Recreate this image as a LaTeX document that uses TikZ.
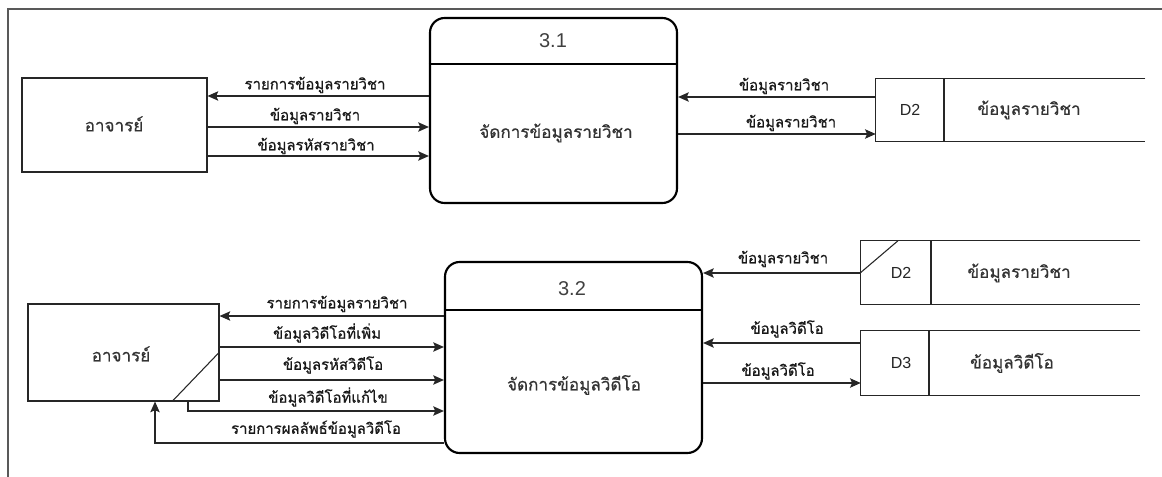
\documentclass[tikz,border=0pt]{standalone}
\usepackage{fontspec}
\setmainfont{Liberation Sans}
\newfontfamily\thaifont[Script=Thai,FakeBold=0.7]{Loma}
\usetikzlibrary{arrows.meta}
\begin{document}
\begin{tikzpicture}[x=0.75pt,y=-0.75pt,
  ent/.style={draw=black!85, line width=0.8pt, rectangle, inner sep=0pt},
  proc/.style={draw=black, line width=1.6pt, rounded corners=11pt, inner sep=0pt},
  store/.style={inner sep=0pt},
  flow/.style={draw=black!85, line width=1pt, -{Stealth[length=8pt,width=7pt,inset=1.5pt]}},
  lbl/.style={font=\thaifont\fontsize{11.2}{13}\selectfont, inner sep=0pt, text=black!90},
  ntext/.style={font=\thaifont\fontsize{12.8}{15}\selectfont, inner sep=0pt, text=black!80},
  num/.style={font=\fontsize{15}{17}\selectfont, inner sep=0pt, text=black!75},
  sid/.style={font=\fontsize{12}{14}\selectfont, inner sep=0pt, text=black!85},
]
\useasboundingbox (0,0) rectangle (1162,477);
\fill[white] (0,0) rectangle (1162,477);
\draw[black!65, line width=0.9pt] (1162,9) -- (8,9) -- (8,477);

% ---------- top part ----------
\node[ent, minimum width=138.75pt, minimum height=70.5pt] (e1) at (114.5,125) {};
\node[ntext] (e1t) at (114,124) {อาจารย์};

\node[proc, minimum width=185.25pt, minimum height=138.75pt] (p1) at (553.5,110.5) {};
\draw[black, line width=1.6pt] (p1.west |- 0,64) -- (p1.east |- 0,64);
\node[num] (p1n) at (553,41) {3.1};
\node[ntext] (p1t) at (556,133) {จัดการข้อมูลรายวิชา};

\node[store, minimum width=201.75pt, minimum height=46.5pt] (s1) at (1010.5,110) {};
\draw[black!85, line width=0.8pt] (s1.north east) -- (s1.north west) -- (s1.south west) -- (s1.south east);
\draw[black!85, line width=0.8pt] (s1.north west -| 944,0) -- (s1.south west -| 944,0);
\node[sid] (s1id) at (910,110) {D2};
\node[ntext] (s1t) at (1029,110) {ข้อมูลรายวิชา};

\draw[flow] (p1.west |- 0,96) -- (e1.east |- 0,96);
\node[lbl] at (315,85) {รายการข้อมูลรายวิชา};
\draw[flow] (e1.east |- 0,127) -- (p1.west |- 0,127);
\node[lbl] at (315,116) {ข้อมูลรายวิชา};
\draw[flow] (e1.east |- 0,156) -- (p1.west |- 0,156);
\node[lbl] at (316,146) {ข้อมูลรหัสรายวิชา};

\draw[flow] (s1.west |- 0,97) -- (p1.east |- 0,97);
\node[lbl] at (784,86) {ข้อมูลรายวิชา};
\draw[flow] (p1.east |- 0,134) -- (s1.west |- 0,134);
\node[lbl] at (791,123) {ข้อมูลรายวิชา};

% ---------- bottom part ----------
\node[ent, minimum width=143.25pt, minimum height=72.75pt] (e2) at (123.5,352.5) {};
\draw[black!85, line width=0.8pt] (e2.south west -| 172,0) -- (e2.east |- 0,352);
\node[ntext] (e2t) at (121,354) {อาจารย์};

\node[proc, minimum width=192.75pt, minimum height=143.25pt] (p2) at (573.5,357.5) {};
\draw[black, line width=1.6pt] (p2.west |- 0,310) -- (p2.east |- 0,310);
\node[num] (p2n) at (572,289) {3.2};
\node[ntext] (p2t) at (574,385) {จัดการข้อมูลวิดีโอ};

\node[store, minimum width=209.25pt, minimum height=47.25pt] (s2) at (1000.5,272.5) {};
\draw[black!85, line width=0.8pt] (s2.north east) -- (s2.north west) -- (s2.south west) -- (s2.south east);
\draw[black!85, line width=0.8pt] (s2.north west -| 931,0) -- (s2.south west -| 931,0);
\draw[black!85, line width=0.8pt] (s2.west) -- (s2.north west -| 898,0);
\node[sid] (s2id) at (901,273) {D2};
\node[ntext] (s2t) at (1019,273) {ข้อมูลรายวิชา};

\node[store, minimum width=209.25pt, minimum height=48pt] (s3) at (1000.5,363) {};
\draw[black!85, line width=0.8pt] (s3.north east) -- (s3.north west) -- (s3.south west) -- (s3.south east);
\draw[black!85, line width=0.8pt] (s3.north west -| 929,0) -- (s3.south west -| 929,0);
\node[sid] (s3id) at (901,363) {D3};
\node[ntext] (s3t) at (1012,363) {ข้อมูลวิดีโอ};

\draw[flow] (p2.west |- 0,316) -- (e2.east |- 0,316);
\node[lbl] at (337,304) {รายการข้อมูลรายวิชา};
\draw[flow] (e2.east |- 0,347) -- (p2.west |- 0,347);
\node[lbl] at (327,333) {ข้อมูลวิดีโอที่เพิ่ม};
\draw[flow] (e2.east |- 0,380) -- (p2.west |- 0,380);
\node[lbl] at (333,365) {ข้อมูลรหัสวิดีโอ};
\draw[flow] (e2.south -| 188,0) -- (188,411) -- (p2.west |- 0,411);
\node[lbl] at (328,397) {ข้อมูลวิดีโอที่แก้ไข};
\draw[flow] (p2.west |- 0,443) -- (155,443) -- (e2.south -| 155,0);
\node[lbl] at (316,429) {รายการผลลัพธ์ข้อมูลวิดีโอ};

\draw[flow] (s2.west |- 0,273) -- (p2.east |- 0,273);
\node[lbl] at (783,259) {ข้อมูลรายวิชา};
\draw[flow] (s3.west |- 0,343) -- (p2.east |- 0,343);
\node[lbl] at (787,329) {ข้อมูลวิดีโอ};
\draw[flow] (p2.east |- 0,383) -- (s3.west |- 0,383);
\node[lbl] at (778,371) {ข้อมูลวิดีโอ};
\end{tikzpicture}
\end{document}
